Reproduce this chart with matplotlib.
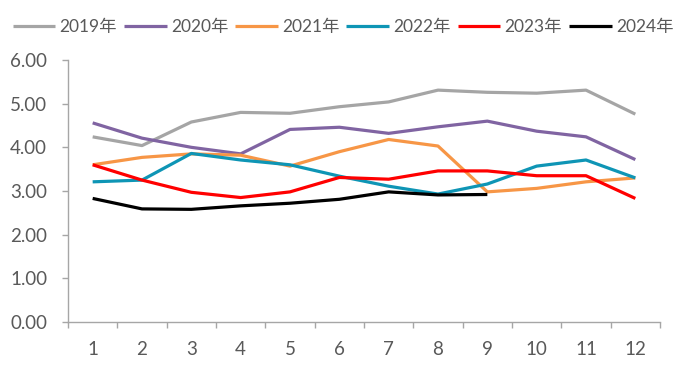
import matplotlib
matplotlib.use('Agg')
import matplotlib.pyplot as plt
from matplotlib.ticker import FixedLocator, FormatStrFormatter

plt.rcParams['font.family'] = ['Lato', 'Noto Sans CJK SC', 'DejaVu Sans']

months = list(range(1, 13))
labels = ['2019年', '2020年', '2021年', '2022年', '2023年', '2024年']
y2019 = [4.24, 4.04, 4.58, 4.80, 4.78, 4.93, 5.04, 5.31, 5.26, 5.24, 5.31, 4.76]
y2020 = [4.56, 4.21, 4.00, 3.85, 4.41, 4.46, 4.32, 4.47, 4.60, 4.37, 4.24, 3.72]
y2021 = [3.60, 3.77, 3.85, 3.82, 3.57, 3.90, 4.18, 4.03, 2.98, 3.06, 3.21, 3.30]
y2022 = [3.21, 3.25, 3.86, 3.71, 3.60, 3.34, 3.11, 2.93, 3.16, 3.57, 3.71, 3.30]
y2023 = [3.60, 3.25, 2.97, 2.85, 2.98, 3.31, 3.27, 3.46, 3.46, 3.35, 3.35, 2.83]
y2024 = [2.83, 2.59, 2.58, 2.66, 2.72, 2.81, 2.98, 2.91, 2.92]

series = [y2019, y2020, y2021, y2022, y2023, y2024]
colors = ['#A5A5A5', '#8064A2', '#F79646', '#0E95B5', '#FF0000', '#000000']

fig = plt.figure(figsize=(6.74, 3.76), dpi=100)
ax = fig.add_axes([68 / 674, 1 - 322 / 376, 592 / 674, 262 / 376])

for lab, vals, c in zip(labels, series, colors):
    ax.plot(months[:len(vals)], vals, color=c, linewidth=2.3, label=lab,
            solid_capstyle='butt', solid_joinstyle='round')

ax.set_xlim(0.5, 12.5)
ax.set_ylim(0, 6)
ax.set_yticks([0, 1, 2, 3, 4, 5, 6])
ax.yaxis.set_major_formatter(FormatStrFormatter('%.2f'))
ax.set_xticks(months)
ax.xaxis.set_minor_locator(FixedLocator([m + 0.5 for m in range(0, 13)]))

txt = '#595959'
spine_c = '#A6A6A6'
for s in ['top', 'right']:
    ax.spines[s].set_visible(False)
for s in ['left', 'bottom']:
    ax.spines[s].set_color(spine_c)
    ax.spines[s].set_linewidth(1.0)

ax.tick_params(axis='x', which='major', length=0, pad=14, labelsize=13.5, labelcolor=txt)
ax.tick_params(axis='x', which='minor', length=4, color=spine_c, width=1.0)
ax.tick_params(axis='y', which='major', length=4, color=spine_c, width=1.0,
               pad=11, labelsize=13.5, labelcolor=txt)

leg = fig.legend(loc='center', bbox_to_anchor=(0.509, 1 - 27 / 376), ncol=6,
                 frameon=False, fontsize=12.5, handlelength=2.45,
                 handletextpad=0.25, columnspacing=0.4, borderaxespad=0,
                 borderpad=0)
for t in leg.get_texts():
    t.set_color(txt)

fig.savefig('out.png', dpi=100, facecolor='white')
